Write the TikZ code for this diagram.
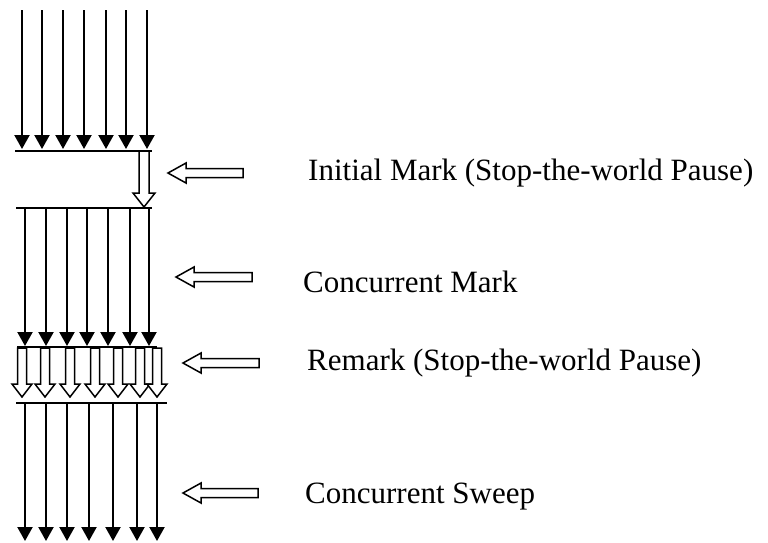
\documentclass[tikz,border=0pt]{standalone}
\usepackage{fontspec}
\setmainfont{Liberation Serif}
\usetikzlibrary{arrows.meta}

% hollow arrow pointing left: tip (#1,#2), tail at x=#3
\newcommand\hollowleft[4]{%
  \draw[hollow] (#1,#2) -- ++(18,-10) -- ++(0,5.5) -- (#3,#2-4.5) -- (#3,#2+4.5)
    -- (#1+18,#2+4.5) -- ++(0,5.5) -- cycle;
  \coordinate (#4) at (#1,#2);}
% hollow arrow pointing down: centre x=#1, from y=#2 to tip y=#3
\newcommand\hollowdown[6]{%
  \draw[hollow] (#1,#3) -- ++(-#5,-#6) -- ++(#5-#4,0) -- (#1-#4,#2) -- (#1+#4,#2)
    -- (#1+#4,#3-#6) -- (#1+#5,#3-#6) -- cycle;}

\tikzset{
  flow/.style={line width=2.2pt,-{Triangle[width=15pt,length=14pt]}},
  bar/.style={line width=2pt},
  hollow/.style={draw=black,fill=white,line width=1.5pt,line join=miter},
  label/.style={anchor=base west,inner sep=0pt,font=\fontsize{31}{36}\selectfont}
}

\begin{document}
\begin{tikzpicture}[x=1pt,y=-1pt]
\useasboundingbox (0,0) rectangle (768,542);

% first phase: application threads running
\foreach \x [count=\i] in {22,42,63,84,106,126,147}{
  \coordinate (a\i) at (\x,10);
  \coordinate (b\i) at (\x,149);
  \draw[flow] (a\i) -- (b\i);
}
\coordinate (l1a) at (15,151); \coordinate (l1b) at (152,151);
\draw[bar] (l1a) -- (l1b);

% initial mark: one GC thread
\hollowdown{144}{151}{207}{5}{11}{14}

\coordinate (l2a) at (16,208); \coordinate (l2b) at (152,208);
\draw[bar] (l2a) -- (l2b);

% concurrent mark
\foreach \x [count=\i] in {25,46,67,87,108,130,149}{
  \coordinate (c\i) at (\x,209);
  \coordinate (d\i) at (\x,346);
  \draw[flow] (c\i) -- (d\i);
}
\coordinate (l3a) at (17,347); \coordinate (l3b) at (157,347);
\draw[bar] (l3a) -- (l3b);

% remark: parallel GC threads
\foreach \x in {22,45,70,95,118,140,157}{
  \hollowdown{\x}{348}{397}{4.5}{10}{13}
}

\coordinate (l4a) at (16,403); \coordinate (l4b) at (167,403);
\draw[bar] (l4a) -- (l4b);

% concurrent sweep
\foreach \x [count=\i] in {25,46,67,89,113,137,157}{
  \coordinate (e\i) at (\x,404);
  \coordinate (f\i) at (\x,541);
  \draw[flow] (e\i) -- (f\i);
}

% phase pointers and labels
\hollowleft{168}{173}{243}{p1}
\hollowleft{176}{277}{252}{p2}
\hollowleft{183}{363}{259}{p3}
\hollowleft{183}{493}{258}{p4}

\node[label] (t1) at (308,180) {Initial Mark (Stop-the-world Pause)};
\node[label] (t2) at (303,292) {Concurrent Mark};
\node[label] (t3) at (307,370) {Remark (Stop-the-world Pause)};
\node[label] (t4) at (305,503) {Concurrent Sweep};
\end{tikzpicture}
\end{document}
